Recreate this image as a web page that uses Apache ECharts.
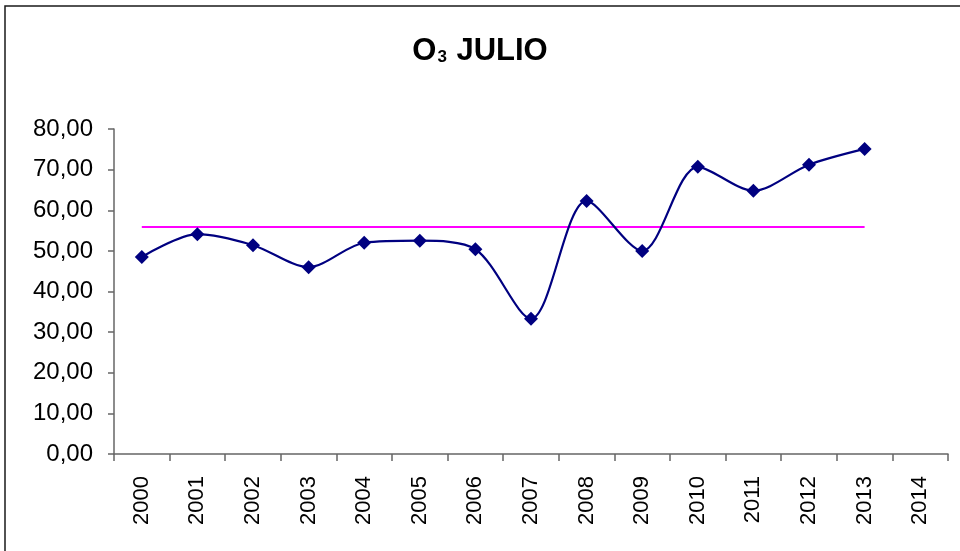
<!DOCTYPE html>
<html>
<head>
<meta charset="utf-8">
<script src="https://cdn.jsdelivr.net/npm/echarts@6/dist/echarts.min.js"></script>
<style>
html,body{margin:0;padding:0;background:#fff;}
#c{width:960px;height:551px;}
</style>
</head>
<body>
<div id="c"></div>
<script>
const years = ['2000','2001','2002','2003','2004','2005','2006','2007','2008','2009','2010','2011','2012','2013','2014'];
const o3Values = [48.5, 54.1, 51.4, 46.0, 52.0, 52.5, 50.4, 33.3, 62.3, 50.0, 70.7, 64.8, 71.2, 75.1];
const meanValues = [55.9, 55.9, 55.9, 55.9, 55.9, 55.9, 55.9, 55.9, 55.9, 55.9, 55.9, 55.9, 55.9, 55.9];
const yTicks = { min: 0, max: 80, interval: 10 };

const chart = echarts.init(document.getElementById('c'), null, { renderer: 'canvas' });
chart.setOption({
  animation: false,
  backgroundColor: '#ffffff',
  graphic: [{
    type: 'rect',
    shape: { x: 5, y: 6, width: 1200, height: 1000 },
    style: { fill: 'none', stroke: '#1a1a1a', lineWidth: 1.5 },
    z: -1
  }],
  title: {
    text: '{a|O}{b|3}{a| JULIO}',
    left: 'center',
    top: 26,
    textStyle: {
      rich: {
        a: { fontFamily: 'Liberation Sans, Arial, sans-serif', fontWeight: 'bold', fontSize: 31, color: '#000', verticalAlign: 'bottom', lineHeight: 36 },
        b: { fontFamily: 'Liberation Sans, Arial, sans-serif', fontWeight: 'bold', fontSize: 17, color: '#000', verticalAlign: 'bottom', lineHeight: 22, padding: [0, 1, 1, 1] }
      }
    }
  },
  grid: { left: 114, right: 12, top: 129, bottom: 97, containLabel: false },
  xAxis: {
    type: 'category',
    data: years,
    boundaryGap: true,
    axisLine: { show: true, lineStyle: { color: '#666', width: 1.5 } },
    axisTick: { show: true, length: 7, alignWithLabel: false, lineStyle: { color: '#666', width: 1.5 } },
    axisLabel: { rotate: 90, margin: 22, fontFamily: 'Liberation Sans, Arial, sans-serif', fontSize: 22, color: '#000', interval: 0 },
    splitLine: { show: false }
  },
  yAxis: {
    type: 'value',
    min: yTicks.min,
    max: yTicks.max,
    interval: yTicks.interval,
    axisLine: { show: true, lineStyle: { color: '#666', width: 1.5 } },
    axisTick: { show: true, length: 6, inside: false, lineStyle: { color: '#666', width: 1.5 } },
    axisLabel: {
      margin: 21,
      fontFamily: 'Liberation Sans, Arial, sans-serif',
      fontSize: 24,
      color: '#000',
      formatter: v => v.toFixed(2).replace('.', ',')
    },
    splitLine: { show: false }
  },
  series: [
    {
      name: 'Media',
      type: 'line',
      data: meanValues,
      symbol: 'none',
      lineStyle: { color: '#ff00ff', width: 2 },
      z: 2
    },
    {
      name: 'O3',
      type: 'line',
      data: o3Values,
      smooth: 0.3,
      symbol: 'diamond',
      symbolSize: 14,
      itemStyle: { color: '#000080' },
      lineStyle: { color: '#000080', width: 2.2 },
      z: 3
    }
  ]
});
</script>
</body>
</html>
